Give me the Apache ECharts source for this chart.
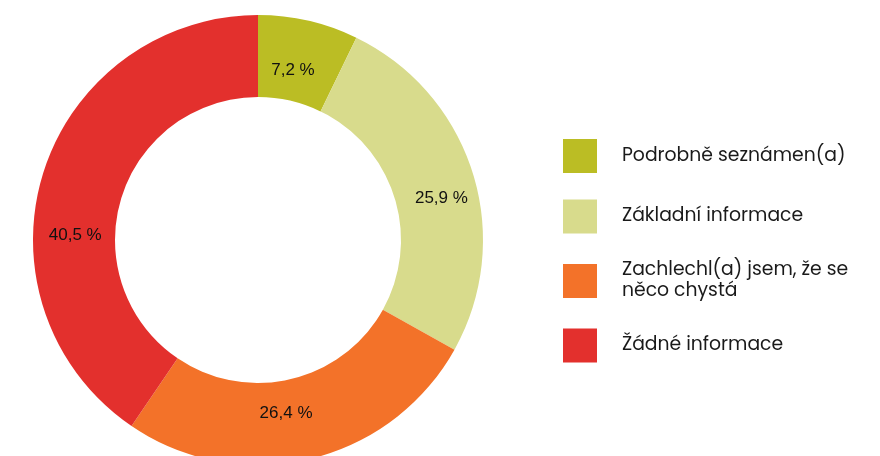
<!DOCTYPE html>
<html><head><meta charset="utf-8">
<script src="https://cdn.jsdelivr.net/npm/echarts@6/dist/echarts.min.js"></script>
<style>html,body{margin:0;padding:0;background:#fff}#c{width:880px;height:456px}</style>
</head><body><div id="c"></div>
<script>
const categories = ['Podrobně seznámen(a)', 'Základní informace', 'Zachlechl(a) jsem, že se\nněco chystá', 'Žádné informace'];
const values = [7.2, 25.9, 26.4, 40.5];
const colors = ['#BBBD24', '#D8DB8C', '#F37229', '#E3302D'];
// label nudges (style only)
const labelNudge = [[-7, 13], [5, 14], [-15, -9], [-4, 50]];

const chart = echarts.init(document.getElementById('c'), null, {renderer: 'canvas'});
chart.setOption({
  animation: false,
  color: colors,
  legend: {
    orient: 'vertical',
    left: 558,
    top: 134,
    itemWidth: 34,
    itemHeight: 34,
    itemGap: 26.5,
    icon: 'rect',
    textStyle: {fontFamily: 'Poppins, Lato, "Noto Sans", sans-serif', fontSize: 18.8, color: '#1a1a1a', lineHeight: 21, padding: [0, 0, 0, 20]},
    data: categories
  },
  series: [{
    type: 'pie',
    center: [258, 240],
    radius: [143, 225],
    startAngle: 90,
    clockwise: true,
    label: {
      show: true,
      position: 'inside',
      fontFamily: '"Liberation Sans", Arial, sans-serif',
      fontSize: 17,
      color: '#111',
      formatter: p => String(p.value).replace('.', ',') + ' %'
    },
    labelLayout: p => ({dx: labelNudge[p.dataIndex][0], dy: labelNudge[p.dataIndex][1]}),
    labelLine: {show: false},
    itemStyle: {borderWidth: 0},
    emphasis: {disabled: true},
    data: categories.map((n, i) => ({name: n, value: values[i]}))
  }]
});
</script></body></html>
